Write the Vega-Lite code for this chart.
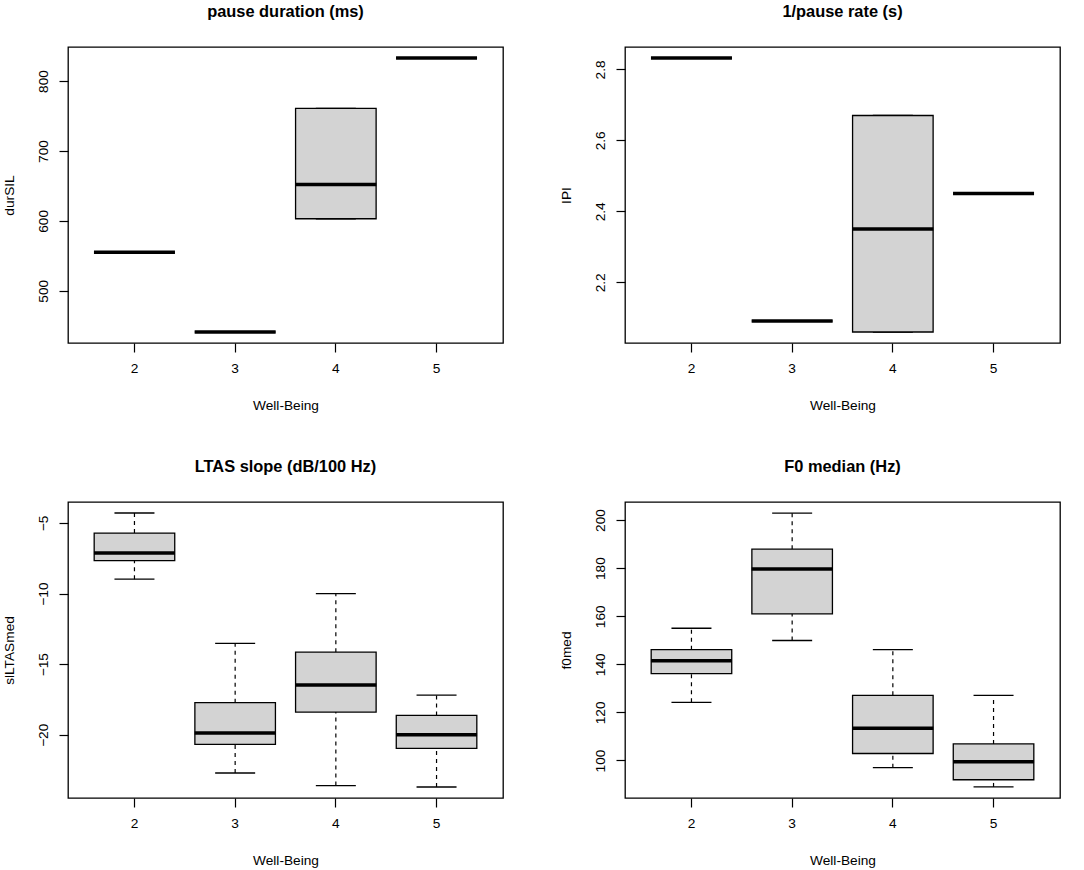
{
  "$schema": "https://vega.github.io/schema/vega-lite/v6.json",
  "background": "white",
  "padding": {"left": 1, "top": 2, "right": 5, "bottom": 5},
  "datasets": {
    "stats": [
      {"panel": "durSIL", "group": "2", "lower": 555, "q1": 555, "median": 555, "q3": 555, "upper": 555},
      {"panel": "durSIL", "group": "3", "lower": 441, "q1": 441, "median": 441, "q3": 441, "upper": 441},
      {"panel": "durSIL", "group": "4", "lower": 603, "q1": 603, "median": 652, "q3": 761, "upper": 761},
      {"panel": "durSIL", "group": "5", "lower": 833, "q1": 833, "median": 833, "q3": 833, "upper": 833},
      {"panel": "IPI", "group": "2", "lower": 2.832, "q1": 2.832, "median": 2.832, "q3": 2.832, "upper": 2.832},
      {"panel": "IPI", "group": "3", "lower": 2.091, "q1": 2.091, "median": 2.091, "q3": 2.091, "upper": 2.091},
      {"panel": "IPI", "group": "4", "lower": 2.06, "q1": 2.06, "median": 2.35, "q3": 2.67, "upper": 2.67},
      {"panel": "IPI", "group": "5", "lower": 2.45, "q1": 2.45, "median": 2.45, "q3": 2.45, "upper": 2.45},
      {"panel": "slLTASmed", "group": "2", "lower": -8.98, "q1": -7.66, "median": -7.12, "q3": -5.71, "upper": -4.29},
      {"panel": "slLTASmed", "group": "3", "lower": -22.71, "q1": -20.68, "median": -19.88, "q3": -17.73, "upper": -13.53},
      {"panel": "slLTASmed", "group": "4", "lower": -23.6, "q1": -18.39, "median": -16.48, "q3": -14.15, "upper": -10.0},
      {"panel": "slLTASmed", "group": "5", "lower": -23.7, "q1": -20.97, "median": -20.0, "q3": -18.63, "upper": -17.19},
      {"panel": "f0med", "group": "2", "lower": 124.2, "q1": 136.1, "median": 141.5, "q3": 146.1, "upper": 155.0},
      {"panel": "f0med", "group": "3", "lower": 149.9, "q1": 161.0, "median": 179.6, "q3": 187.9, "upper": 202.9},
      {"panel": "f0med", "group": "4", "lower": 97.0, "q1": 102.9, "median": 113.4, "q3": 127.1, "upper": 146.1},
      {"panel": "f0med", "group": "5", "lower": 89.0, "q1": 92.0, "median": 99.5, "q3": 106.9, "upper": 127.1}
    ]
  },
  "data": {"name": "stats"},
  "columns": 2,
  "bounds": "flush",
  "spacing": {"row": 159, "column": 122},
  "concat": [
    {
      "width": 435,
      "height": 296,
      "title": {"text": "pause duration (ms)"},
      "transform": [{"filter": "datum.panel == 'durSIL'"}],
      "encoding": {
        "x": {"field": "group", "type": "ordinal", "title": "Well-Being",
              "scale": {"paddingInner": 0.2, "paddingOuter": 0.26}},
        "y": {"type": "quantitative", "title": "durSIL",
              "scale": {"domain": [425.3, 848.7], "nice": false, "zero": false},
              "axis": {"values": [500, 600, 700, 800]}}
      },
      "layer": [
        {"mark": {"type": "rule", "strokeDash": [4, 4]}, "encoding": {"y": {"field": "lower"}, "y2": {"field": "q1"}}},
        {"mark": {"type": "rule", "strokeDash": [4, 4]}, "encoding": {"y": {"field": "q3"}, "y2": {"field": "upper"}}},
        {"mark": {"type": "tick", "size": 40}, "encoding": {"y": {"field": "lower"}}},
        {"mark": {"type": "tick", "size": 40}, "encoding": {"y": {"field": "upper"}}},
        {"mark": {"type": "bar"}, "encoding": {"y": {"field": "q1"}, "y2": {"field": "q3"}}},
        {"mark": {"type": "tick", "size": 81, "thickness": 3.5}, "encoding": {"y": {"field": "median"}}}
      ]
    },
    {
      "width": 435,
      "height": 296,
      "title": {"text": "1/pause rate (s)"},
      "transform": [{"filter": "datum.panel == 'IPI'"}],
      "encoding": {
        "x": {"field": "group", "type": "ordinal", "title": "Well-Being",
              "scale": {"paddingInner": 0.2, "paddingOuter": 0.26}},
        "y": {"type": "quantitative", "title": "IPI",
              "scale": {"domain": [2.029, 2.863], "nice": false, "zero": false},
              "axis": {"values": [2.2, 2.4, 2.6, 2.8], "format": ".1f"}}
      },
      "layer": [
        {"mark": {"type": "rule", "strokeDash": [4, 4]}, "encoding": {"y": {"field": "lower"}, "y2": {"field": "q1"}}},
        {"mark": {"type": "rule", "strokeDash": [4, 4]}, "encoding": {"y": {"field": "q3"}, "y2": {"field": "upper"}}},
        {"mark": {"type": "tick", "size": 40}, "encoding": {"y": {"field": "lower"}}},
        {"mark": {"type": "tick", "size": 40}, "encoding": {"y": {"field": "upper"}}},
        {"mark": {"type": "bar"}, "encoding": {"y": {"field": "q1"}, "y2": {"field": "q3"}}},
        {"mark": {"type": "tick", "size": 81, "thickness": 3.5}, "encoding": {"y": {"field": "median"}}}
      ]
    },
    {
      "width": 435,
      "height": 296,
      "title": {"text": "LTAS slope (dB/100 Hz)"},
      "transform": [{"filter": "datum.panel == 'slLTASmed'"}],
      "encoding": {
        "x": {"field": "group", "type": "ordinal", "title": "Well-Being",
              "scale": {"paddingInner": 0.2, "paddingOuter": 0.26}},
        "y": {"type": "quantitative", "title": "slLTASmed",
              "scale": {"domain": [-24.48, -3.51], "nice": false, "zero": false},
              "axis": {"values": [-20, -15, -10, -5]}}
      },
      "layer": [
        {"mark": {"type": "rule", "strokeDash": [4, 4]}, "encoding": {"y": {"field": "lower"}, "y2": {"field": "q1"}}},
        {"mark": {"type": "rule", "strokeDash": [4, 4]}, "encoding": {"y": {"field": "q3"}, "y2": {"field": "upper"}}},
        {"mark": {"type": "tick", "size": 40}, "encoding": {"y": {"field": "lower"}}},
        {"mark": {"type": "tick", "size": 40}, "encoding": {"y": {"field": "upper"}}},
        {"mark": {"type": "bar"}, "encoding": {"y": {"field": "q1"}, "y2": {"field": "q3"}}},
        {"mark": {"type": "tick", "size": 81, "thickness": 3.5}, "encoding": {"y": {"field": "median"}}}
      ]
    },
    {
      "width": 435,
      "height": 296,
      "title": {"text": "F0 median (Hz)"},
      "transform": [{"filter": "datum.panel == 'f0med'"}],
      "encoding": {
        "x": {"field": "group", "type": "ordinal", "title": "Well-Being",
              "scale": {"paddingInner": 0.2, "paddingOuter": 0.26}},
        "y": {"type": "quantitative", "title": "f0med",
              "scale": {"domain": [84.4, 207.5], "nice": false, "zero": false},
              "axis": {"values": [100, 120, 140, 160, 180, 200]}}
      },
      "layer": [
        {"mark": {"type": "rule", "strokeDash": [4, 4]}, "encoding": {"y": {"field": "lower"}, "y2": {"field": "q1"}}},
        {"mark": {"type": "rule", "strokeDash": [4, 4]}, "encoding": {"y": {"field": "q3"}, "y2": {"field": "upper"}}},
        {"mark": {"type": "tick", "size": 40}, "encoding": {"y": {"field": "lower"}}},
        {"mark": {"type": "tick", "size": 40}, "encoding": {"y": {"field": "upper"}}},
        {"mark": {"type": "bar"}, "encoding": {"y": {"field": "q1"}, "y2": {"field": "q3"}}},
        {"mark": {"type": "tick", "size": 81, "thickness": 3.5}, "encoding": {"y": {"field": "median"}}}
      ]
    }
  ],
  "config": {
    "font": "Liberation Sans",
    "view": {"stroke": "black", "strokeWidth": 1.3},
    "title": {"fontSize": 16.4, "fontWeight": "bold", "color": "black", "frame": "group", "anchor": "middle", "offset": 27, "baseline": "bottom"},
    "axis": {"grid": false, "domain": false, "tickColor": "black", "tickWidth": 1.2, "tickSize": 9,
             "labelColor": "black", "labelFontSize": 13.7, "titleColor": "black", "titleFontSize": 13.7,
             "titleFontWeight": "normal"},
    "axisX": {"labelAngle": 0, "labelPadding": 9.5, "titlePadding": 23},
    "axisY": {"labelAngle": -90, "labelPadding": 9, "titlePadding": 20},
    "rule": {"color": "black", "strokeWidth": 1.2},
    "tick": {"color": "black", "thickness": 1.3, "opacity": 1},
    "bar": {"fill": "#d3d3d3", "stroke": "black", "strokeWidth": 1.3}
  }
}
